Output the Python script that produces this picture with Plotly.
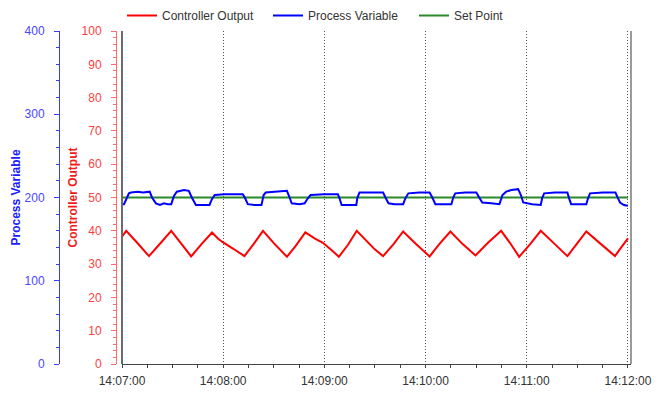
import pandas as pd
import plotly.graph_objects as go

# ---------------- data (seconds after 14:07:00) ----------------
base_time = "2024-01-01 14:07:00"

co_t = [0, 2.5, 9, 16, 22, 29.2, 35, 41, 47, 53.4, 57, 60, 66, 72.6, 78, 83.6,
        90, 97.8, 103, 108.7, 114.2, 119.1, 124, 128.6, 134, 139.2, 149.7, 154.8,
        161, 166.7, 174, 182.4, 188, 194.7, 202, 209.6, 217, 224.8, 230, 235.5,
        242, 248.3, 256, 264.1, 270, 275.3, 284, 292.3, 296, 300]
co_v = [38.2, 40.0, 36.4, 32.4, 35.8, 40.0, 36.2, 32.3, 35.9, 39.5, 37.6, 36.5, 34.6, 32.4, 36.0, 40.0,
        36.3, 32.2, 35.5, 39.5, 37.7, 36.4, 34.3, 32.2, 35.8, 40.0, 34.5, 32.4,
        36.0, 39.8, 36.2, 32.3, 35.9, 39.8, 36.0, 32.6, 36.4, 40.0, 36.4, 32.2,
        36.0, 40.0, 36.3, 32.4, 36.3, 39.8, 36.0, 32.4, 35.0, 37.7]

pv_t = [0, 1.2, 3.0, 4.1, 5.3, 9.5, 12.4, 16.4, 17.8, 20.1, 22.5, 24.9, 27.2, 29.2,
        30.8, 32.5, 36.7, 39.6, 41.4, 43.8, 48.5, 51.9, 53.3, 55.0, 60.9, 66.9, 71.6,
        72.8, 74.6, 78.7, 82.7, 84.0, 85.2, 90.5, 97.8, 99.4, 100.6, 105.3, 108.3,
        110.2, 111.8, 120.1, 128.0, 129.0, 130.2, 134.9, 138.9, 139.6, 140.8, 146.7,
        154.8, 156.2, 158.0, 161.5, 166.7, 168.0, 169.8, 176.3, 182.4, 184.0, 185.8,
        191.1, 195.3, 196.4, 197.6, 203.5, 210.1, 211.8, 213.6, 218.9, 223.8, 225.6,
        227.8, 230.8, 234.9, 236.5, 237.9, 243.2, 248.3, 249.1, 250.3, 256.8, 264.1,
        265.1, 266.3, 271.0, 275.3, 276.3, 277.5, 285.2, 292.6, 294.1, 295.3, 297.6, 300]
pv_v = [192, 192, 200, 205, 206, 207, 206, 207, 200, 193, 191, 193, 192, 192,
        202, 207, 209, 208, 200, 191, 191, 191, 198, 203, 204, 204, 204,
        200, 192, 191, 191, 203, 206, 207, 208, 200, 193, 192, 193,
        199, 203, 204, 204, 199, 191, 191, 191, 200, 206, 206,
        206, 200, 193, 192, 192, 199, 205, 206, 206, 200, 192,
        192, 192, 200, 205, 206, 206, 200, 194, 193, 192, 203,
        207, 209, 210, 203, 194, 192, 191, 199, 205, 206, 206,
        199, 192, 192, 192, 199, 205, 206, 206, 199, 194, 191, 190]

sp_t = [0, 300]
sp_v = [200, 200]

x_end_s = 301.8

# ---------------- build ----------------
t0 = pd.Timestamp(base_time)
def to_time(sec):
    return t0 + pd.to_timedelta(sec, unit="s")

W, H = 662, 397
L_PX, R_PX, T_PX, B_PX = 122, 631, 31, 364
FONT = "Liberation Sans, Arial, sans-serif"

fig = go.Figure()
fig.add_trace(go.Scatter(x=to_time(co_t), y=co_v, name="Controller Output", mode="lines",
                         line=dict(color="#ff0000", width=2), yaxis="y", legendrank=1))
fig.add_trace(go.Scatter(x=to_time(sp_t), y=sp_v, name="Set Point", mode="lines",
                         line=dict(color="#2a8a2a", width=2), yaxis="y2", legendrank=3))
fig.add_trace(go.Scatter(x=to_time(pv_t), y=pv_v, name="Process Variable", mode="lines",
                         line=dict(color="#0000ff", width=2), yaxis="y2", legendrank=2))

xrange = [t0, to_time(x_end_s)]
dom = [L_PX / W, R_PX / W]

fig.update_layout(
    width=W, height=H,
    margin=dict(l=0, r=0, t=T_PX, b=H - B_PX, pad=0, autoexpand=False),
    paper_bgcolor="white", plot_bgcolor="white",
    font=dict(family=FONT, size=12, color="#333333"),
    showlegend=True,
    legend=dict(orientation="h", x=(L_PX) / W, xanchor="left",
                y=(B_PX - 1) / (B_PX - T_PX), yanchor="top",
                font=dict(family=FONT, size=12, color="#333333"),
                bgcolor="rgba(0,0,0,0)", entrywidth=101, traceorder="normal"),
    xaxis=dict(domain=dom, type="date", range=xrange, anchor="y",
               showline=True, linecolor="#444444", linewidth=1,
               ticks="outside", ticklen=3, tickcolor="#444444",
               dtick=60000, tick0=t0, tickformat="%H:%M:%S",
               ticklabelstandoff=3,
               tickfont=dict(family=FONT, size=12, color="#333333"),
               showgrid=True, gridcolor="#555555", griddash="1px,2px", gridwidth=1,
               minor=dict(dtick=15000, tick0=t0, ticks="outside", ticklen=3,
                          tickcolor="#444444", showgrid=False),
               zeroline=False),
    xaxis2=dict(domain=dom, type="date", range=xrange, anchor="y", overlaying="x",
                side="bottom", showticklabels=False, showgrid=False,
                ticks="inside", ticklen=3, tickcolor="#444444",
                dtick=60000, tick0=t0,
                minor=dict(dtick=15000, tick0=t0, ticks="inside", ticklen=3, tickcolor="#444444")),
    xaxis3=dict(domain=dom, type="date", range=xrange, anchor="y", overlaying="x",
                side="top", showticklabels=False, showgrid=False, showline=True,
                linecolor="#555555", linewidth=1,
                ticks="inside", ticklen=3, tickcolor="#555555",
                dtick=60000, tick0=t0,
                minor=dict(dtick=15000, tick0=t0, ticks="inside", ticklen=2, tickcolor="#777777")),
    yaxis=dict(range=[0, 100], anchor="free", position=116 / W, side="left",
               showline=True, linecolor="#ff6a6a", linewidth=1,
               ticks="outside", ticklen=5, tickcolor="#ff6a6a", dtick=10,
               ticklabelstandoff=7,
               tickfont=dict(family=FONT, size=12, color="#ff4040"),
               showgrid=False, zeroline=False,
               minor=dict(dtick=2, ticks="outside", ticklen=3, tickcolor="#ff6a6a")),
    yaxis2=dict(range=[0, 400], anchor="free", position=59 / W, side="left",
                overlaying="y",
                showline=True, linecolor="#3a3aff", linewidth=1,
                ticks="outside", ticklen=5, tickcolor="#3a3aff", dtick=100,
                ticklabelstandoff=7,
                tickfont=dict(family=FONT, size=12, color="#4848ff"),
                showgrid=False, zeroline=False,
                minor=dict(dtick=20, ticks="outside", ticklen=3, tickcolor="#3a3aff")),
)

# frame lines (left dark, right grey)
fig.add_shape(type="line", xref="x domain", yref="y domain", x0=0, x1=0, y0=0, y1=1,
              line=dict(color="#6a6a6a", width=2), layer="above")
fig.add_shape(type="line", xref="x domain", yref="y domain", x0=1, x1=1, y0=0, y1=1,
              line=dict(color="#9a9a9a", width=2), layer="above")

# axis titles
fig.add_annotation(text="<b>Process Variable</b>", textangle=-90, xref="paper", yref="paper",
                   x=15 / W, y=0.5, xanchor="center", yanchor="middle", showarrow=False,
                   font=dict(family=FONT, size=12, color="#1a1aff"))
fig.add_annotation(text="<b>Controller Output</b>", textangle=-90, xref="paper", yref="paper",
                   x=72 / W, y=0.5, xanchor="center", yanchor="middle", showarrow=False,
                   font=dict(family=FONT, size=12, color="#f01c1c"))

fig.write_html("out.html", config={"displayModeBar": False},
               post_script="document.body.style.margin='0';")
